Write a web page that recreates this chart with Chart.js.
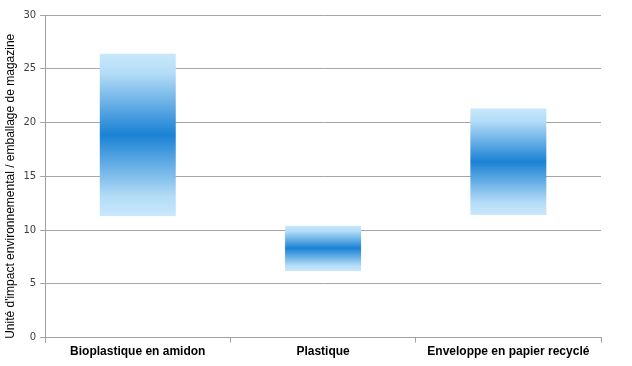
<!DOCTYPE html>
<html>
<head>
<meta charset="utf-8">
<script src="https://cdn.jsdelivr.net/npm/chart.js@4"></script>
<style>
  html, body { margin: 0; padding: 0; background: #fff; }
  #wrap { width: 632px; height: 366px; }
</style>
</head>
<body>
<div id="wrap"><canvas id="myChart"></canvas></div>
<script>
// data
const categories = ['Bioplastique en amidon', 'Plastique', 'Enveloppe en papier recyclé'];
const lowValues = [11.3, 6.2, 11.4];
const highValues = [26.4, 10.4, 21.3];
const yTitle = "Unité d'impact environnemental / emballage de magazine";

const ranges = categories.map((c, i) => [lowValues[i], highValues[i]]);

function barGradient(context) {
  const chart = context.chart;
  const y = chart.scales.y;
  if (!chart.chartArea || !y || context.dataIndex == null) return '#1a80d2';
  const top = y.getPixelForValue(highValues[context.dataIndex]);
  const bottom = y.getPixelForValue(lowValues[context.dataIndex]);
  if (!isFinite(top) || !isFinite(bottom)) return '#1a80d2';
  const g = chart.ctx.createLinearGradient(0, top, 0, bottom);
  g.addColorStop(0, '#c8e8fc');
  g.addColorStop(0.12, '#b4dcf7');
  g.addColorStop(0.5, '#1a82d4');
  g.addColorStop(0.88, '#b4dcf7');
  g.addColorStop(1, '#c8e8fc');
  return g;
}

const ctx = document.getElementById('myChart').getContext('2d');
const myChart = new Chart(ctx, {
  type: 'bar',
  data: {
    labels: categories,
    datasets: [{
      data: ranges,
      backgroundColor: barGradient,
      borderWidth: 0,
      barPercentage: 0.41,
      categoryPercentage: 1
    }]
  },
  options: {
    responsive: true,
    maintainAspectRatio: false,
    animation: false,
    layout: { padding: { top: 15, right: 31, left: 3, bottom: 5 } },
    plugins: {
      legend: { display: false },
      tooltip: { enabled: false }
    },
    scales: {
      x: {
        grid: { display: true, drawOnChartArea: false, offset: true, tickLength: 5, color: '#a0a0a0' },
        border: { color: '#a0a0a0' },
        ticks: {
          color: '#000',
          font: { family: 'Liberation Sans', size: 12, weight: 'bold' },
          padding: 2,
          maxRotation: 0
        }
      },
      y: {
        min: 0,
        max: 30,
        grid: { color: '#a6a6a6', tickLength: 5 },
        border: { color: '#a0a0a0' },
        ticks: {
          stepSize: 5,
          color: '#404040',
          font: { family: 'DejaVu Sans', size: 10 },
          padding: 4
        },
        title: {
          display: true,
          text: yTitle + '\u00a0\u00a0\u00a0\u00a0\u00a0\u00a0',
          color: '#000',
          font: { family: 'Liberation Sans', size: 12 },
          padding: { top: 0, bottom: 2 }
        }
      }
    }
  }
});
</script>
</body>
</html>
